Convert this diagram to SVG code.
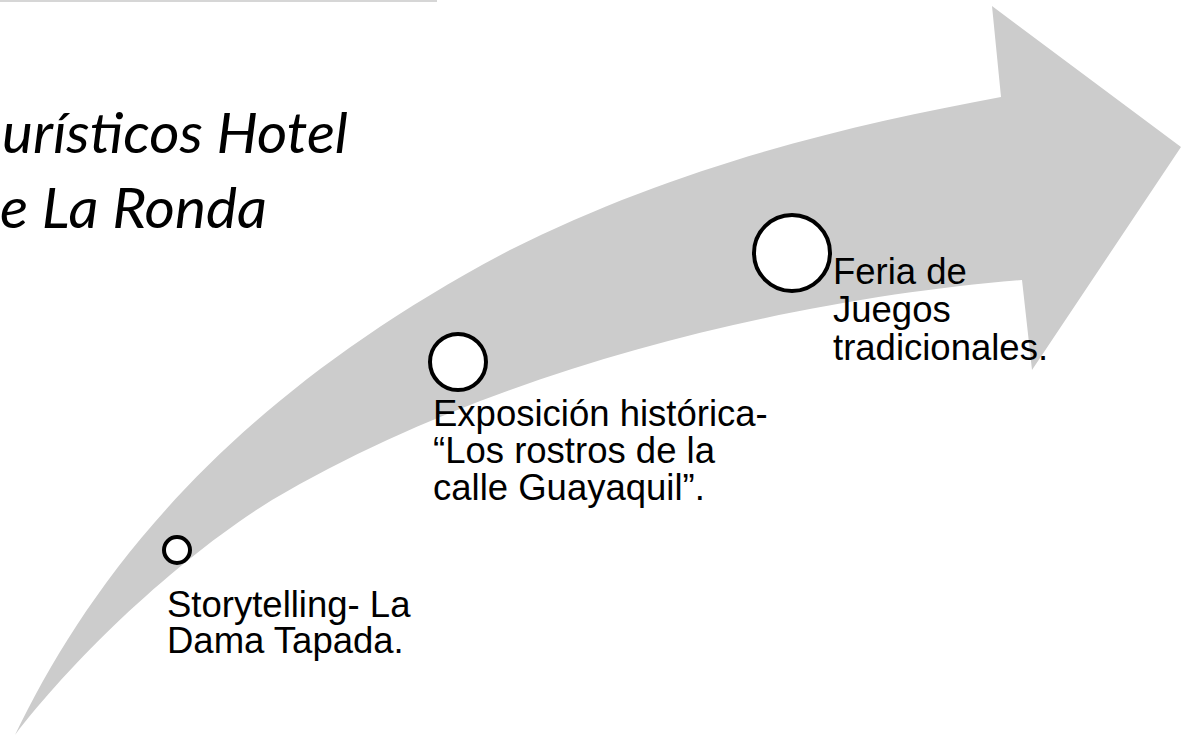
<svg xmlns="http://www.w3.org/2000/svg" width="1181" height="736" viewBox="0 0 1181 736">
  <style>
    .lbl { font-family: "Liberation Sans", Arial, sans-serif; font-size: 36.5px; fill: #000000; }
    .title { font-family: Lato, "Open Sans", sans-serif; font-style: italic; font-size: 57px; fill: #000000; }
    .dot { fill: #ffffff; stroke: #000000; stroke-width: 4; }
  </style>
  <rect x="0" y="0" width="1181" height="736" fill="#ffffff"/>
  <line x1="0" y1="1" x2="437" y2="1" stroke="#c8c8c8" stroke-width="1.5"/>
  <g id="connectors">
    <path id="arrow" fill="#cccccc" d="M15,735 C85,590 215,405 510,250 C680,165 850,125 1001,97 L992,6 L1181,147 L1032,370 L1022,280 C800,298 500,365 272,500 C175,560 72,660 15,735 Z"/>
  </g>
  <g id="title">
    <text class="title" x="2" y="153" textLength="346" lengthAdjust="spacingAndGlyphs">urísticos Hotel</text>
    <text class="title" x="0" y="228" textLength="267" lengthAdjust="spacingAndGlyphs">e La Ronda</text>
  </g>
  <g id="node-1">
    <circle class="dot" cx="177" cy="550" r="13"/>
    <text class="lbl" x="167" y="617">Storytelling- La</text>
    <text class="lbl" x="167" y="653">Dama Tapada.</text>
  </g>
  <g id="node-2">
    <circle class="dot" cx="458" cy="362" r="28"/>
    <text class="lbl" x="433" y="426">Exposición histórica-</text>
    <text class="lbl" x="433" y="463">“Los rostros de la</text>
    <text class="lbl" x="433" y="500">calle Guayaquil”.</text>
  </g>
  <g id="node-3">
    <circle class="dot" cx="792" cy="253" r="38"/>
    <text class="lbl" x="833" y="284">Feria de</text>
    <text class="lbl" x="833" y="322">Juegos</text>
    <text class="lbl" x="833" y="360">tradicionales.</text>
  </g>
</svg>
